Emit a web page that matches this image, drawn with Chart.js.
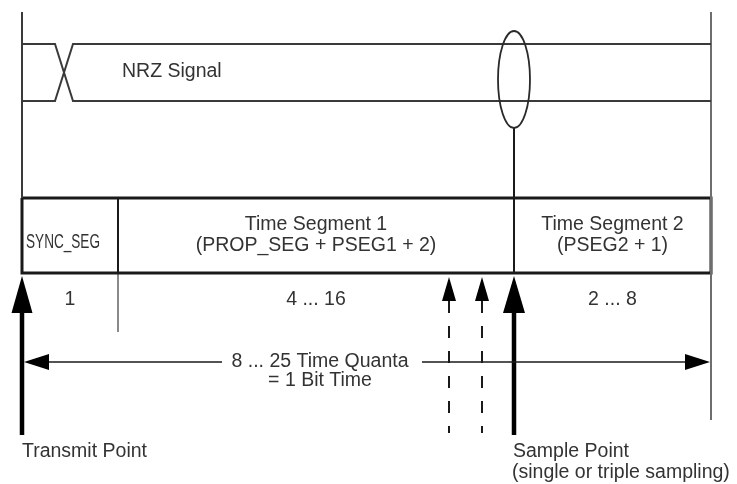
<!DOCTYPE html>
<html>
<head>
<meta charset="utf-8">
<script src="https://cdn.jsdelivr.net/npm/chart.js@4.4.1/dist/chart.umd.min.js"></script>
<style>
  html, body { margin: 0; padding: 0; background: #fff; }
  #wrap { width: 737px; height: 484px; }
</style>
</head>
<body>
<div id="wrap"><canvas id="bitTiming" width="737" height="484"></canvas></div>
<script>
// bit timeline (diagram units along x) and row levels (y)
const bitEdges = [22, 118, 514, 711];          // SYNC_SEG start, TSEG1 start, sample point, bit end
const segNames = ['SYNC_SEG', 'Time Segment 1', 'Time Segment 2'];
const segFormulas = ['', '(PROP_SEG + PSEG1 + 2)', '(PSEG2 + 1)'];
const segQuanta = ['1', '4 ... 16', '2 ... 8'];
const nrzLevels = [44, 101];                   // high / low level of the signal
const nrzCross = [55, 73];                     // edge of the transition
const tripleSamples = [449, 482];              // extra sample points (triple sampling)
const boxRows = [198, 273];
const bitTimeText = ['8 ... 25 Time Quanta', '= 1 Bit Time'];
const transmitText = ['Transmit Point'];
const sampleText = ['Sample Point', '(single or triple sampling)'];

const INK = '#1a1a1a';
const GREY = '#6e6e6e';
const TEXT = '#333333';
const FONT = '19.5px "Liberation Sans", Arial, sans-serif';

const pt = (x, y) => ({x, y});
const line = (data, width, color, dash) => ({
    data, showLine: true, pointRadius: 0, borderWidth: width,
    borderColor: color, borderDash: dash || [], fill: false, tension: 0
});

const [x0, x1, xs, xe] = bitEdges;
const [hi, lo] = nrzLevels;
const [boxTop, boxBot] = boxRows;

const datasets = [
    // NRZ signal
    line([pt(x0, hi), pt(nrzCross[0], hi), pt(nrzCross[1], lo), pt(xe, lo)], 2, '#3a3a3a'),
    line([pt(x0, lo), pt(nrzCross[0], lo), pt(nrzCross[1], hi), pt(xe, hi)], 2, '#3a3a3a'),
    // frame lines
    line([pt(x0, 12), pt(x0, boxTop)], 2, '#3a3a3a'),
    line([pt(xe, 12), pt(xe, 420)], 2, GREY),
    line([pt(xs, 128), pt(xs, boxBot)], 2, INK),
    // segment box
    line([pt(x0, boxTop), pt(xe, boxTop), pt(xe, boxBot), pt(x0, boxBot), pt(x0, boxTop)], 3, INK),
    line([pt(x1, boxTop), pt(x1, boxBot)], 2, INK),
    line([pt(x1, boxBot), pt(x1, 332)], 2, '#8a8a8a'),
    // bit time arrow
    line([pt(x0 + 26, 362), pt(222, 362)], 1.5, INK),
    line([pt(422, 362), pt(xe - 25, 362)], 1.5, INK),
    // triple sampling (dashed)
    ...tripleSamples.map(x => line([pt(x, 301), pt(x, 433)], 2, INK, [12, 13])),
    // transmit / sample point shafts
    line([pt(x0, 310), pt(x0, 435)], 4.5, '#000'),
    line([pt(xs, 310), pt(xs, 435)], 4.5, '#000'),
];

const decorations = {
    id: 'decorations',
    afterDatasetsDraw(chart) {
        const {ctx, scales: {x, y}} = chart;
        const X = v => x.getPixelForValue(v), Y = v => y.getPixelForValue(v);

        const head = (tx, ty, dir, len, half) => {
            const px = X(tx), py = Y(ty);
            ctx.beginPath();
            ctx.moveTo(px, py);
            if (dir === 'up') { ctx.lineTo(px - half, py + len); ctx.lineTo(px + half, py + len); }
            if (dir === 'left') { ctx.lineTo(px + len, py - half); ctx.lineTo(px + len, py + half); }
            if (dir === 'right') { ctx.lineTo(px - len, py - half); ctx.lineTo(px - len, py + half); }
            ctx.closePath();
            ctx.fill();
        };

        ctx.save();
        ctx.fillStyle = '#000';
        head(x0, 276, 'up', 37, 10.5);
        head(xs, 276, 'up', 37, 11);
        tripleSamples.forEach(v => head(v, 277, 'up', 24, 7));
        head(x0 + 2, 362, 'left', 25, 8);
        head(xe - 1, 362, 'right', 25, 8);

        // sample point ellipse on the NRZ signal
        ctx.strokeStyle = '#2a2a2a';
        ctx.lineWidth = 1.8;
        ctx.beginPath();
        ctx.ellipse(X(xs), Y(79.5), 16, 48.5, 0, 0, Math.PI * 2);
        ctx.stroke();

        // texts
        ctx.fillStyle = TEXT;
        ctx.font = FONT;
        ctx.textBaseline = 'middle';

        ctx.textAlign = 'left';
        ctx.fillText('NRZ Signal', X(122), Y(72));

        // SYNC_SEG is squeezed to fit its narrow cell
        ctx.save();
        ctx.font = '20px "Liberation Sans", Arial, sans-serif';
        const sw = ctx.measureText(segNames[0]).width;
        ctx.translate(X((x0 + x1) / 2 - 7), Y(242));
        ctx.scale(74 / sw, 1);
        ctx.textAlign = 'center';
        ctx.fillText(segNames[0], 0, 0);
        ctx.restore();

        ctx.textAlign = 'center';
        for (let i = 1; i < 3; i++) {
            const cx = X((bitEdges[i] + bitEdges[i + 1]) / 2);
            ctx.fillText(segNames[i], cx, Y(225));
            ctx.fillText(segFormulas[i], cx, Y(246));
        }
        segQuanta.forEach((q, i) => {
            ctx.fillText(q, X((bitEdges[i] + bitEdges[i + 1]) / 2), Y(300));
        });

        ctx.fillText(bitTimeText[0], X(320), Y(362));
        ctx.fillText(bitTimeText[1], X(320), Y(381));

        ctx.textAlign = 'left';
        ctx.fillText(transmitText[0], X(x0), Y(452));
        ctx.fillText(sampleText[0], X(xs - 1), Y(452));
        ctx.fillText(sampleText[1], X(xs - 2), Y(473));
        ctx.restore();
    }
};

new Chart(document.getElementById('bitTiming'), {
    type: 'scatter',
    data: {datasets},
    options: {
        responsive: false,
        animation: false,
        layout: {padding: 0},
        plugins: {legend: {display: false}, tooltip: {enabled: false}},
        scales: {
            x: {type: 'linear', min: 0, max: 737, display: false},
            y: {type: 'linear', min: 0, max: 484, reverse: true, display: false}
        }
    },
    plugins: [decorations]
});
</script>
</body>
</html>
